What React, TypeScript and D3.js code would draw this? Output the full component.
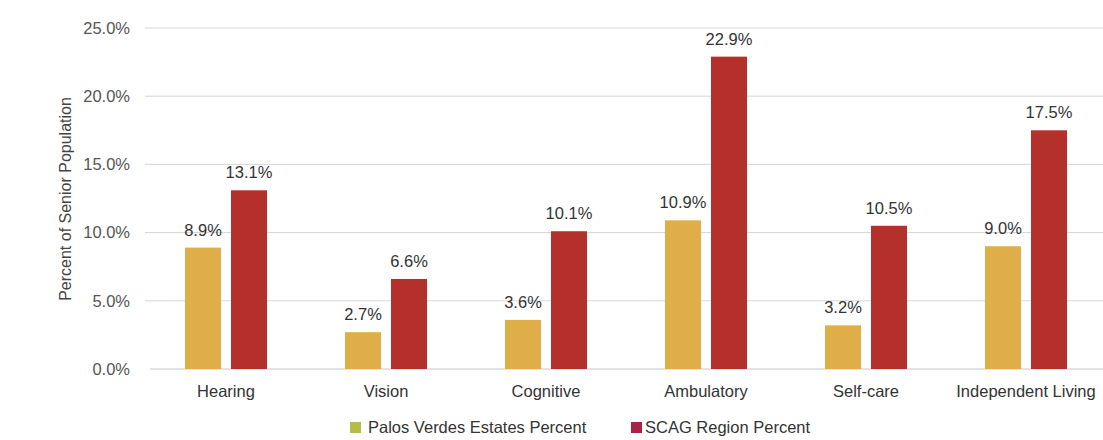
import React from "react";
import * as d3 from "d3";

const categories = ["Hearing", "Vision", "Cognitive", "Ambulatory", "Self-care", "Independent Living"];
const palosVerdes = [8.9, 2.7, 3.6, 10.9, 3.2, 9.0];
const scagRegion = [13.1, 6.6, 10.1, 22.9, 10.5, 17.5];
const seriesNames = ["Palos Verdes Estates Percent", "SCAG Region Percent"];
const yTicks = [0, 5, 10, 15, 20, 25];

const barColors = ["#E0AE48", "#B4302A"];
const legendColors = ["#B7BC48", "#A8224A"];

export default function App() {
  const W = 1103, H = 440;
  const plotLeft = 146, plotRight = 1106;
  const y = d3.scaleLinear().domain([0, 25]).range([369, 28]);
  const x0 = d3.scaleBand<string>().domain(categories).range([plotLeft, plotRight]).padding(0);
  const x1 = d3.scaleBand<string>().domain(seriesNames).range([-41, 41]).paddingInner(0.217).paddingOuter(0);
  const values = [palosVerdes, scagRegion];
  const font = "'Liberation Sans', Arial, sans-serif";
  const fs = 16.5;

  return (
    <svg width={W} height={H} style={{ position: "absolute", left: 0, top: 0, background: "#fff" }} fontFamily={font}>
      {yTicks.map((t) => (
        <g key={t}>
          <line x1={t === 0 ? 150 : 145} x2={W} y1={y(t)} y2={y(t)} stroke={t === 0 ? "#c4c4c4" : "#d6d6d6"} strokeWidth={1} />
          <text x={130} y={y(t)} dy="0.35em" textAnchor="end" fontSize={fs} fill="#555">
            {t.toFixed(1)}%
          </text>
        </g>
      ))}
      <text transform={`translate(71,199) rotate(-90)`} textAnchor="middle" fontSize={16} fill="#444">
        Percent of Senior Population
      </text>
      {categories.map((c, i) => {
        const cx = (x0(c) as number) + x0.bandwidth() / 2;
        return (
          <g key={c}>
            {seriesNames.map((s, j) => {
              const v = values[j][i];
              const bx = cx + (x1(s) as number);
              return (
                <g key={s}>
                  <rect x={bx} y={y(v)} width={x1.bandwidth()} height={y(0) - y(v)} fill={barColors[j]} />
                  <text x={bx + x1.bandwidth() / 2} y={y(v) - 12} textAnchor="middle" fontSize={fs} fill="#333">
                    {v.toFixed(1)}%
                  </text>
                </g>
              );
            })}
            <text x={cx} y={397} textAnchor="middle" fontSize={fs} fill="#333">
              {c}
            </text>
          </g>
        );
      })}
      <g>
        <rect x={350} y={422} width={11} height={11} fill={legendColors[0]} />
        <text x={368} y={433} fontSize={fs} fill="#333">{seriesNames[0]}</text>
        <rect x={631} y={422} width={11} height={11} fill={legendColors[1]} />
        <text x={645} y={433} fontSize={fs} fill="#333">{seriesNames[1]}</text>
      </g>
    </svg>
  );
}
